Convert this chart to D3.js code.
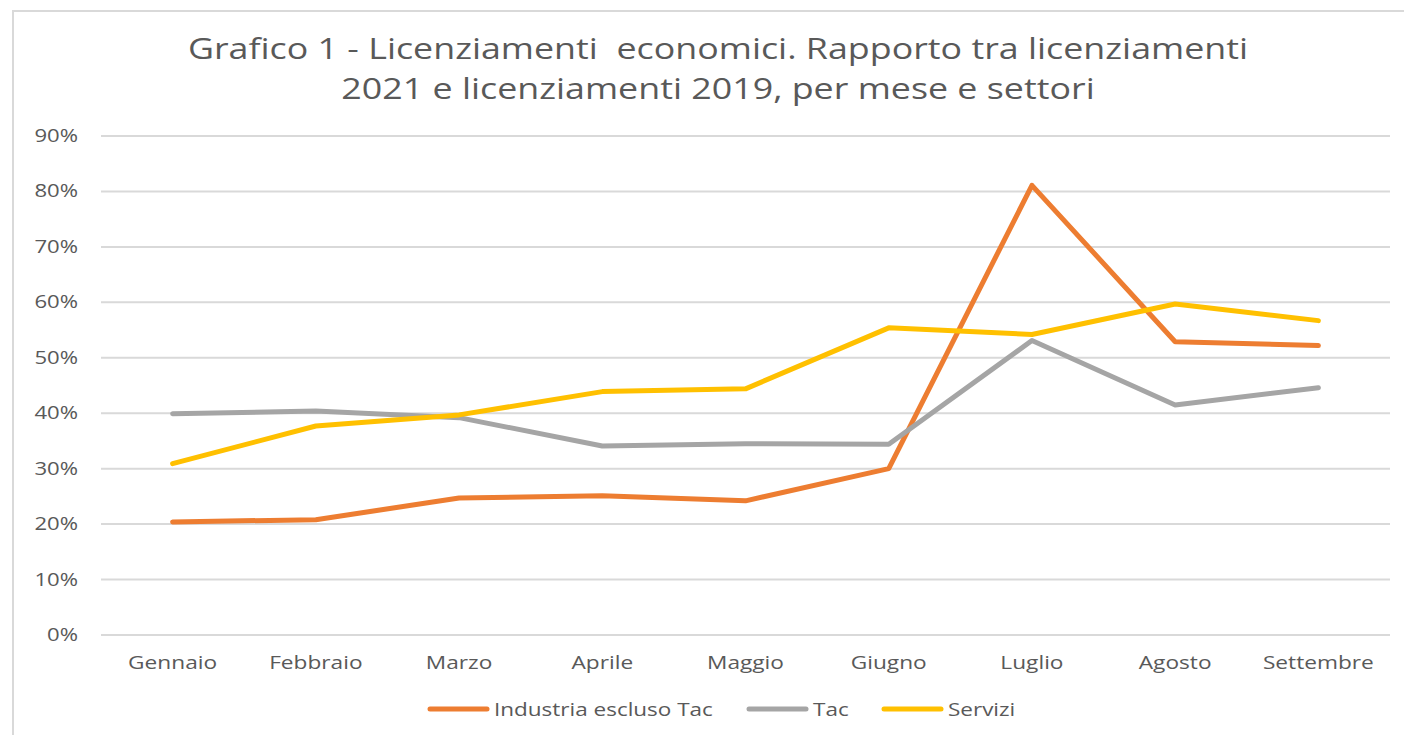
<!DOCTYPE html>
<html>
<head>
<meta charset="utf-8">
<script src="https://cdn.jsdelivr.net/npm/d3@7"></script>
<style>
  body { margin: 0; background: #fff; }
  text { font-family: "Open Sans", "Noto Sans", sans-serif; fill: #595959; }
</style>
</head>
<body>
<svg id="chart" width="1404" height="735"></svg>
<script>
var months = ['Gennaio', 'Febbraio', 'Marzo', 'Aprile', 'Maggio', 'Giugno', 'Luglio', 'Agosto', 'Settembre'];
var industria = [0.204, 0.208, 0.247, 0.251, 0.242, 0.300, 0.811, 0.529, 0.522];
var tac = [0.399, 0.404, 0.392, 0.341, 0.345, 0.344, 0.531, 0.415, 0.446];
var servizi = [0.309, 0.377, 0.397, 0.439, 0.444, 0.554, 0.542, 0.597, 0.567];
var yTicks = [0, 0.1, 0.2, 0.3, 0.4, 0.5, 0.6, 0.7, 0.8, 0.9];
var seriesNames = ['Industria escluso Tac', 'Tac', 'Servizi'];
var colors = ['#ED7D31', '#A5A5A5', '#FFC000'];

var series = [industria, tac, servizi];

var svg = d3.select('#chart');

// the source picture is stretched sideways, so text gets a horizontal scale
function place(x, y, sx) {
    return 'translate(' + x + ',' + y + ') scale(' + sx + ',1)';
}

// outer frame
svg.append('path')
    .attr('d', 'M13,740 L13,11 L1410,11')
    .attr('fill', 'none')
    .attr('stroke', '#d9d9d9')
    .attr('stroke-width', 2);

// title
var titleLines = ['Grafico 1 - Licenziamenti  economici. Rapporto tra licenziamenti',
    '2021 e licenziamenti 2019, per mese e settori'];
svg.append('g')
    .selectAll('text')
    .data(titleLines)
    .join('text')
    .attr('transform', (d, i) => place(718, 59 + i * 40, 1.235))
    .attr('text-anchor', 'middle')
    .attr('font-size', 29)
    .attr('xml:space', 'preserve')
    .text(d => d);

var plotLeft = 101, plotRight = 1390, plotTop = 136, plotBottom = 635;

var x = d3.scaleBand()
    .domain(months)
    .range([plotLeft, plotRight]);

var y = d3.scaleLinear()
    .domain([0, 0.9])
    .range([plotBottom, plotTop]);

// grid
svg.append('g')
    .selectAll('line')
    .data(yTicks)
    .join('line')
    .attr('x1', plotLeft)
    .attr('x2', plotRight)
    .attr('y1', d => y(d))
    .attr('y2', d => y(d))
    .attr('stroke', '#d9d9d9')
    .attr('stroke-width', 2);

// y labels
svg.append('g')
    .selectAll('text')
    .data(yTicks)
    .join('text')
    .attr('transform', d => place(78, y(d) + 6, 1.23))
    .attr('text-anchor', 'end')
    .attr('font-size', 18)
    .text(d3.format('.0%'));

// x labels
svg.append('g')
    .selectAll('text')
    .data(months)
    .join('text')
    .attr('transform', d => place(x(d) + x.bandwidth() / 2, 669, 1.26))
    .attr('text-anchor', 'middle')
    .attr('font-size', 18)
    .text(d => d);

var line = d3.line()
    .x((d, i) => x(months[i]) + x.bandwidth() / 2)
    .y(d => y(d));

svg.append('g')
    .selectAll('path')
    .data(series)
    .join('path')
    .attr('d', line)
    .attr('fill', 'none')
    .attr('stroke', (d, i) => colors[i])
    .attr('stroke-width', 5)
    .attr('stroke-linejoin', 'round')
    .attr('stroke-linecap', 'round');

// legend
var legendX = [430, 749, 884];
var legend = svg.append('g')
    .selectAll('g')
    .data(seriesNames)
    .join('g')
    .attr('transform', (d, i) => 'translate(' + legendX[i] + ',709)');

legend.append('line')
    .attr('x1', 0)
    .attr('x2', 57)
    .attr('stroke', (d, i) => colors[i])
    .attr('stroke-width', 5)
    .attr('stroke-linecap', 'round');

legend.append('text')
    .attr('transform', place(64, 7, 1.25))
    .attr('font-size', 18)
    .text(d => d);
</script>
</body>
</html>
